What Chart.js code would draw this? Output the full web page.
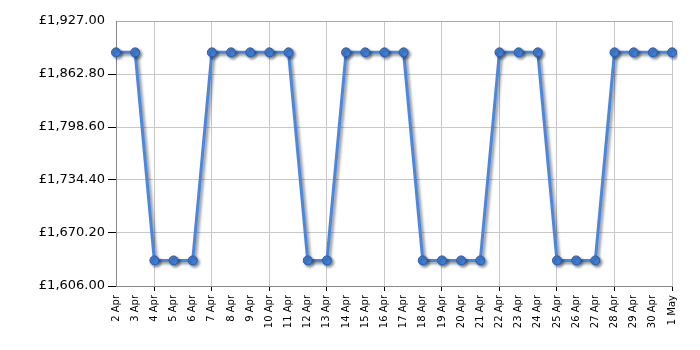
<!DOCTYPE html>
<html>
<head>
<meta charset="utf-8">
<script src="https://cdn.jsdelivr.net/npm/chart.js@4/dist/chart.umd.min.js"></script>
<style>
  html, body { margin: 0; padding: 0; background: #fff; }
  #wrap { width: 700px; height: 350px; }
</style>
</head>
<body>
<div id="wrap"><canvas id="priceChart" width="700" height="350"></canvas></div>
<script>
const dates = ['2 Apr', '3 Apr', '4 Apr', '5 Apr', '6 Apr', '7 Apr', '8 Apr', '9 Apr', '10 Apr', '11 Apr',
  '12 Apr', '13 Apr', '14 Apr', '15 Apr', '16 Apr', '17 Apr', '18 Apr', '19 Apr', '20 Apr', '21 Apr',
  '22 Apr', '23 Apr', '24 Apr', '25 Apr', '26 Apr', '27 Apr', '28 Apr', '29 Apr', '30 Apr', '1 May'];
const prices = [1889, 1889, 1637, 1637, 1637, 1889, 1889, 1889, 1889, 1889,
  1637, 1637, 1889, 1889, 1889, 1889, 1637, 1637, 1637, 1637,
  1889, 1889, 1889, 1637, 1637, 1637, 1889, 1889, 1889, 1889];
const yMin = 1606;
const yMax = 1927;
const yStep = 64.2;

// grey drop shadow under the line and points
const shadowPlugin = {
  id: 'shadow',
  beforeDatasetsDraw(chart) {
    const c = chart.ctx;
    c.save();
    c.shadowColor = 'rgba(0,0,0,0.45)';
    c.shadowBlur = 3;
    c.shadowOffsetX = 2;
    c.shadowOffsetY = 2;
  },
  afterDatasetsDraw(chart) {
    chart.ctx.restore();
  }
};

const fmt = v => '£' + v.toLocaleString('en-GB', { minimumFractionDigits: 2, maximumFractionDigits: 2 });
const everyThird = (ctx, col) => (ctx.index % 3 === 2 ? col : 'rgba(0,0,0,0)');

new Chart(document.getElementById('priceChart'), {
  type: 'line',
  data: {
    labels: dates,
    datasets: [{
      data: prices,
      borderColor: '#4a88e0',
      borderWidth: 3,
      pointBackgroundColor: '#3f7fd6',
      pointBorderColor: '#2a5cae',
      pointBorderWidth: 1,
      pointRadius: 4.5,
      tension: 0
    }]
  },
  options: {
    responsive: false,
    animation: false,
    layout: { padding: { top: 21, right: 28, left: 0, bottom: 0 } },
    plugins: { legend: { display: false }, tooltip: { enabled: false } },
    scales: {
      x: {
        offset: false,
        afterFit: s => { s.height = 64; },
        border: { color: '#888', width: 1 },
        grid: {
          color: ctx => everyThird(ctx, '#c8c8c8'),
          tickColor: ctx => everyThird(ctx, '#000'),
          tickLength: 5
        },
        ticks: {
          autoSkip: false,
          minRotation: 90,
          maxRotation: 90,
          padding: 4,
          color: '#000',
          font: { family: 'DejaVu Sans', size: 10 }
        }
      },
      y: {
        min: yMin,
        max: yMax,
        afterFit: s => { s.width = 116; },
        afterBuildTicks: s => {
          s.ticks = [];
          for (let i = 0; i <= 5; i++) s.ticks.push({ value: yMin + yStep * i });
        },
        border: { color: '#888', width: 1 },
        grid: {
          color: ctx => (ctx.index === 5 ? '#aaa' : '#c8c8c8'),
          tickColor: ctx => (ctx.index === 5 ? 'rgba(0,0,0,0)' : '#000'),
          tickLength: 8
        },
        ticks: {
          padding: 3,
          color: '#000',
          font: { family: 'DejaVu Sans', size: 13 },
          callback: v => fmt(v)
        }
      }
    }
  },
  plugins: [shadowPlugin]
});
</script>
</body>
</html>
